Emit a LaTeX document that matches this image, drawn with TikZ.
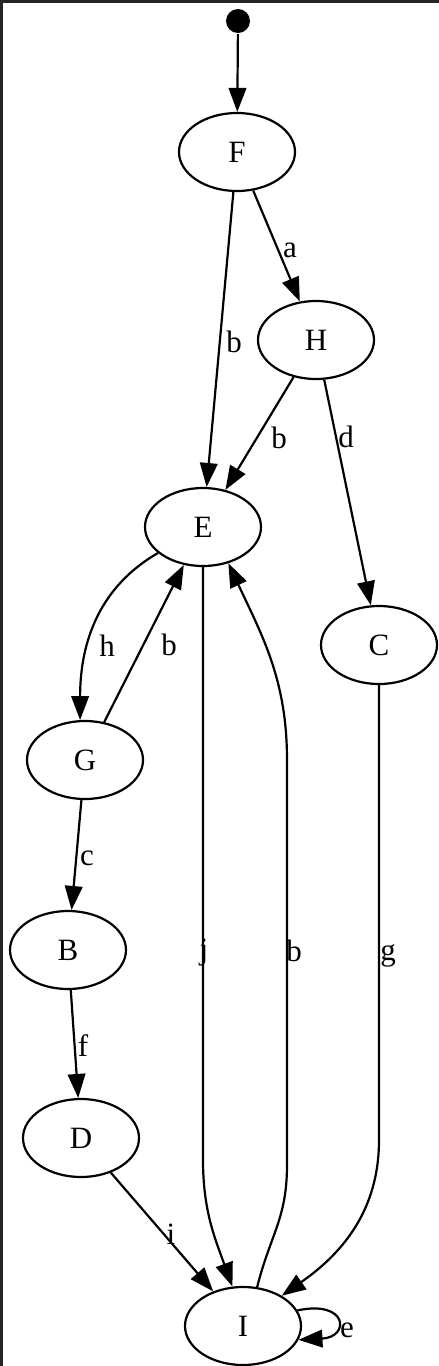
\documentclass[tikz,border=0pt]{standalone}
\usepackage{fontspec}
\setmainfont{Liberation Serif}
\usetikzlibrary{shapes.geometric,arrows.meta}

\begin{document}
\begin{tikzpicture}[x=0.5pt, y=0.5pt, line width=1.1pt, >={Triangle[length=12pt,width=8.8pt]},
            state/.style={draw, ellipse, minimum width=58pt, minimum height=39pt, inner sep=0pt, font=\fontsize{15.5}{18}\selectfont},
            lbl/.style={inner sep=0pt, font=\fontsize{15.5}{18}\selectfont}]
            \useasboundingbox (0,0) rectangle (439,-1366);
            \fill[black!85] (0,0) rectangle (439,-2.5);
            \fill[black!85] (0,0) rectangle (2.5,-1366);

            \node (start) at (238,-21) [circle, fill=black, minimum size=12pt, inner sep=0pt]{};
            \node (F) at (237,-152) [state]{F};
            \node (H) at (316,-340) [state]{H};
            \node (E) at (203,-527) [state]{E};
            \node (C) at (379,-645) [state]{C};
            \node (G) at (85,-760) [state]{G};
            \node (B) at (68,-950) [state]{B};
            \node (D) at (81,-1138) [state]{D};
            \node (I) at (243,-1326) [state]{I};

            \coordinate (jbend) at (203,-1160);
            \coordinate (bup1) at (287,-1165);
            \coordinate (bup2) at (287,-760);
            \coordinate (gbend) at (379,-1140);

            \draw[->] (start) -- (F);
            \draw[->] (F) -- (E);
            \draw[->] (F) -- (H);
            \draw[->] (H) -- (E);
            \draw[->] (H) -- (C);
            \draw[->] (E.210) to[out=210, in=90] (G.97);
            \draw[->] (G) -- (E);
            \draw[->] (G) -- (B);
            \draw[->] (B) -- (D);
            \draw[->] (D) -- (I);
            \draw[->] (E.south) -- (jbend) to[out=-90, in=110] (I.105);
            \draw[->] (I.70) to[out=76, in=-90, looseness=1.1] (bup1) -- (bup2) to[out=90, in=-65] (E.-55);
            \draw[->] (C.south) -- (gbend) to[out=-90, in=35] (I.38);
            \draw[->] (I.16) to[out=12, in=3, looseness=4.5] (I.-14);

            \node (la) at (290,-250) [lbl]{a};
            \node (lbFE) at (234,-342) [lbl]{b};
            \node (lbHE) at (279,-438) [lbl]{b};
            \node (ld) at (346,-437) [lbl]{d};
            \node (lh) at (107,-646) [lbl]{h};
            \node (lbGE) at (169,-645) [lbl]{b};
            \node (lc) at (87,-858) [lbl]{c};
            \node (lj) at (204,-953) [lbl]{j};
            \node (lbIE) at (294,-951) [lbl]{b};
            \node (lg) at (388,-956) [lbl]{g};
            \node (lf) at (83,-1046) [lbl]{f};
            \node (li) at (171,-1234) [lbl]{i};
            \node (le) at (347,-1330) [lbl]{e};
        \end{tikzpicture}
\end{document}
